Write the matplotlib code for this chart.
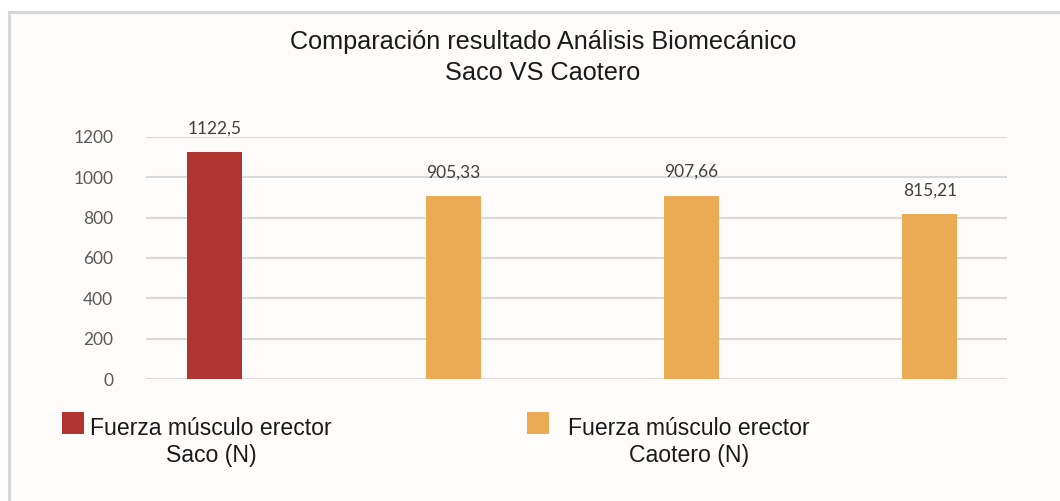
import matplotlib.pyplot as plt
from matplotlib.patches import Rectangle
import numpy as np

# fuerza del músculo erector (N)
grupos = ['Saco', 'Caotero', 'Caotero', 'Caotero']
fuerzas = [1122.5, 905.33, 907.66, 815.21]
etiquetas = ['1122,5', '905,33', '907,66', '815,21']
colores = ['#B0342F', '#EBAB55', '#EBAB55', '#EBAB55']

leyenda = ['Fuerza músculo erector\nSaco (N)', 'Fuerza músculo erector\nCaotero (N)']
leyenda_colores = ['#B0342F', '#EBAB55']

titulo = 'Comparación resultado Análisis Biomecánico\nSaco VS Caotero'
yticks = [0, 200, 400, 600, 800, 1000, 1200]

fig = plt.figure(figsize=(10.6, 5.01), dpi=100, facecolor='white')

# marco del gráfico
fig.patches.append(Rectangle((9 / 1060, -0.1), 1.2, 1 - 12 / 501 + 0.1,
                             transform=fig.transFigure, facecolor='#FDFCFA',
                             edgecolor='#D6D6D6', lw=2.2, zorder=-5))

ax = fig.add_axes([146 / 1060, 1 - 379.3 / 501, 861 / 1060, 242.6 / 501])
ax.set_facecolor('none')

x = np.arange(len(fuerzas))
ax.bar(x, fuerzas, width=0.231, color=colores, zorder=3)

# etiquetas de valor sobre cada barra
for xi, v, t in zip(x, fuerzas, etiquetas):
    ax.text(xi, v + 78, t, ha='center', va='bottom', fontsize=12.5,
            family='Lato', color='#404040', clip_on=False)

ax.set_xlim(-0.289, 3.324)
ax.set_ylim(0, 1200)
ax.set_yticks(yticks)
ax.set_xticks([])
ax.tick_params(axis='y', length=0, pad=23.5, labelsize=12.5, labelcolor='#595959')
for lab in ax.get_yticklabels():
    lab.set_family('Lato')
ax.grid(axis='y', color='#D9D9D9', lw=1.5, zorder=0)
for s in ax.spines.values():
    s.set_visible(False)

fig.text(543 / 1060, 1 - 57.5 / 501, titulo, ha='center', va='center',
         fontsize=18.2, family='Liberation Sans', color='#1A1A1A', linespacing=1.38)

# leyenda dibujada a mano
for x0, xc, lab, c in zip([62, 527], [211, 689], leyenda, leyenda_colores):
    fig.patches.append(Rectangle((x0 / 1060, 1 - 434 / 501), 22 / 1060, 22 / 501,
                                 transform=fig.transFigure, facecolor=c,
                                 edgecolor='none'))
    fig.text(xc / 1060, 1 - 442 / 501, lab, ha='center', va='center',
             multialignment='center', fontsize=16.6, family='Liberation Sans',
             color='#1A1A1A', linespacing=1.25)

fig.savefig('out.png', dpi=100, facecolor=fig.get_facecolor())
